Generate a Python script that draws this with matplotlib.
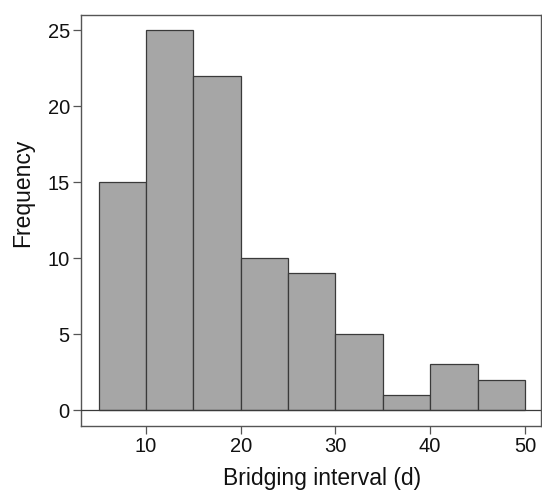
import matplotlib
matplotlib.use("Agg")
import matplotlib.pyplot as plt

bin_edges = [5, 10, 15, 20, 25, 30, 35, 40, 45, 50]
counts = [15, 25, 22, 10, 9, 5, 1, 3, 2]
x_ticks = [10, 20, 30, 40, 50]
y_ticks = [0, 5, 10, 15, 20, 25]

plt.rcParams['font.family'] = ['Liberation Sans', 'DejaVu Sans']

fig = plt.figure(figsize=(5.42, 4.91), dpi=100)
ax = fig.add_axes([0.1494, 0.1324, 0.8488, 0.8371])

lefts = bin_edges[:-1]
widths = [b - a for a, b in zip(bin_edges[:-1], bin_edges[1:])]
ax.bar(lefts, counts, width=widths, align='edge', color='#a6a6a6',
       edgecolor='#3a3a3a', linewidth=0.9, zorder=2)
ax.axhline(0, color='#3a3a3a', linewidth=0.9, zorder=3)

ax.set_xlim(3.14, 51.7)
ax.set_ylim(-1.05, 26.0)
ax.set_xticks(x_ticks)
ax.set_yticks(y_ticks)
ax.tick_params(axis='both', direction='out', length=6, width=0.9,
               color='#555555', labelsize=14.5, labelcolor='#111111', pad=2)
for s in ax.spines.values():
    s.set_color('#555555')
    s.set_linewidth(1.0)

ax.set_xlabel('Bridging interval (d)', fontsize=16.5, color='#111111')
ax.set_ylabel('Frequency', fontsize=16.5, color='#111111')
ax.xaxis.set_label_coords(0.525, -0.099)
ax.yaxis.set_label_coords(-0.102, 0.567)

fig.savefig('out.png', dpi=100)
